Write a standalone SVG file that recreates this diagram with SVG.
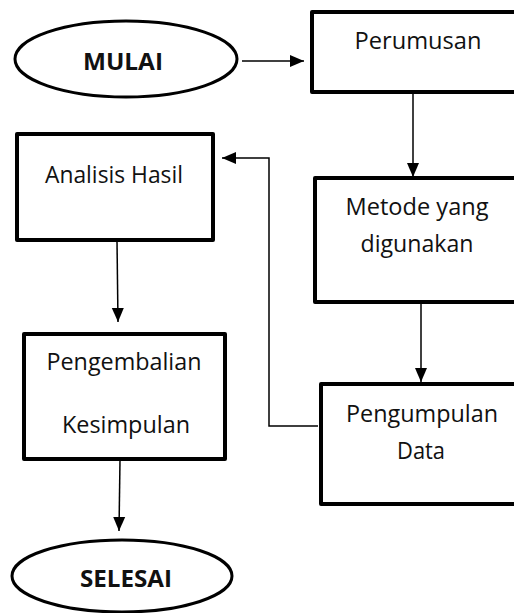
<svg xmlns="http://www.w3.org/2000/svg" width="514" height="613" viewBox="0 0 514 613">
<style>
.box{fill:#fff;stroke:#000;stroke-width:4;stroke-linejoin:round}
.term{fill:#fff;stroke:#000;stroke-width:3}
.t{font-family:"Open Sans","Liberation Sans",sans-serif;font-size:23px;fill:#111;text-anchor:middle}
.b{font-weight:bold;font-size:24px}
.c{fill:none;stroke:#000;stroke-width:1.5}
</style>
<defs>
<marker id="ah" markerUnits="userSpaceOnUse" markerWidth="14" markerHeight="14" viewBox="0 0 14 14" refX="14" refY="7" orient="auto">
<path d="M0,1 L14,7 L0,13 Z" fill="#000"/>
</marker>
</defs>
<g id="connectors">
<line class="c" x1="242" y1="61" x2="304" y2="61" marker-end="url(#ah)"/>
<line class="c" x1="413" y1="93" x2="413" y2="177" marker-end="url(#ah)"/>
<line class="c" x1="421" y1="303" x2="421" y2="382" marker-end="url(#ah)"/>
<polyline class="c" points="318,426 269,426 269,158 222,158" marker-end="url(#ah)"/>
<line class="c" x1="117" y1="241" x2="118" y2="322" marker-end="url(#ah)"/>
<line class="c" x1="120" y1="460" x2="119" y2="531" marker-end="url(#ah)"/>
</g>
<g id="mulai">
<ellipse class="term" cx="126" cy="59" rx="111" ry="38"/>
<text class="t b" x="123" y="70" textLength="80" lengthAdjust="spacingAndGlyphs">MULAI</text>
</g>
<g id="perumusan">
<rect class="box" x="312" y="12" width="210" height="80"/>
<text class="t" x="418" y="49" textLength="127" lengthAdjust="spacingAndGlyphs">Perumusan</text>
</g>
<g id="metode">
<rect class="box" x="315" y="178" width="210" height="124"/>
<text class="t" x="417" y="215" textLength="143" lengthAdjust="spacingAndGlyphs">Metode yang</text>
<text class="t" x="417" y="252" textLength="113" lengthAdjust="spacingAndGlyphs">digunakan</text>
</g>
<g id="pengumpulan">
<rect class="box" x="321" y="384" width="210" height="120"/>
<text class="t" x="422" y="422" textLength="152" lengthAdjust="spacingAndGlyphs">Pengumpulan</text>
<text class="t" x="421" y="459" textLength="48" lengthAdjust="spacingAndGlyphs">Data</text>
</g>
<g id="analisis">
<rect class="box" x="17" y="134" width="196" height="106"/>
<text class="t" x="114" y="183" textLength="138" lengthAdjust="spacingAndGlyphs">Analisis Hasil</text>
</g>
<g id="pengembalian">
<rect class="box" x="24" y="334" width="201" height="125"/>
<text class="t" x="124" y="370" textLength="155" lengthAdjust="spacingAndGlyphs">Pengembalian</text>
<text class="t" x="126" y="433" textLength="128" lengthAdjust="spacingAndGlyphs">Kesimpulan</text>
</g>
<g id="selesai">
<ellipse class="term" cx="122" cy="576" rx="110" ry="36"/>
<text class="t b" x="126" y="587" textLength="92" lengthAdjust="spacingAndGlyphs">SELESAI</text>
</g>
</svg>
